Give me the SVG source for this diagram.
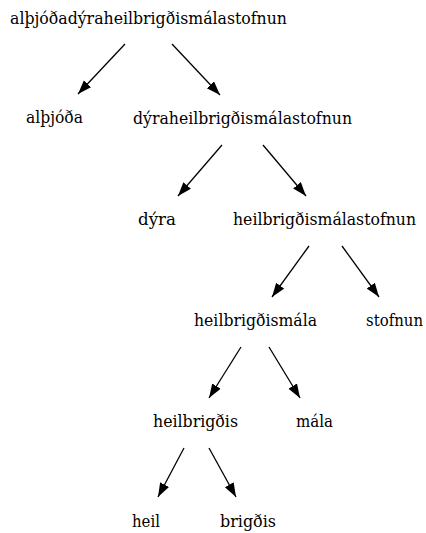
<svg xmlns="http://www.w3.org/2000/svg" width="426" height="533" viewBox="0 0 426 533">
  <style>
    .lbl { font-family: 'DejaVu Serif', serif; font-size: 16px; fill: #000; text-anchor: middle; }
    .edge { stroke: #000; stroke-width: 1.3; fill: none; marker-end: url(#arrow); }
  </style>
  <defs>
    <marker id="arrow" markerUnits="userSpaceOnUse" markerWidth="15" markerHeight="11" refX="14" refY="5" orient="auto">
      <path d="M0,0 L14,5 L0,10 Z" fill="#000"/>
    </marker>
  </defs>
  <rect width="426" height="533" fill="#fff"/>

  <g id="edges">
    <line class="edge" x1="125" y1="44" x2="78" y2="94"/>
    <line class="edge" x1="172" y1="44" x2="220" y2="95"/>
    <line class="edge" x1="222" y1="145" x2="178" y2="196"/>
    <line class="edge" x1="263" y1="145" x2="306" y2="196"/>
    <line class="edge" x1="309" y1="246" x2="272" y2="297"/>
    <line class="edge" x1="342" y1="246" x2="379" y2="297"/>
    <line class="edge" x1="241" y1="347" x2="209" y2="398"/>
    <line class="edge" x1="269" y1="347" x2="300" y2="398"/>
    <line class="edge" x1="184" y1="448" x2="158" y2="497"/>
    <line class="edge" x1="209" y1="448" x2="236" y2="497"/>
  </g>

  <g id="n-root"><text class="lbl" x="148.5" y="24" textLength="277" lengthAdjust="spacingAndGlyphs">alþjóðadýraheilbrigðismálastofnun</text></g>
  <g id="n-althjoda"><text class="lbl" x="54.5" y="123" textLength="57" lengthAdjust="spacingAndGlyphs">alþjóða</text></g>
  <g id="n-dyraheil"><text class="lbl" x="242.5" y="124" textLength="219" lengthAdjust="spacingAndGlyphs">dýraheilbrigðismálastofnun</text></g>
  <g id="n-dyra"><text class="lbl" x="157" y="225" textLength="38" lengthAdjust="spacingAndGlyphs">dýra</text></g>
  <g id="n-heilstofnun"><text class="lbl" x="324.5" y="225" textLength="183" lengthAdjust="spacingAndGlyphs">heilbrigðismálastofnun</text></g>
  <g id="n-heilmala"><text class="lbl" x="255.5" y="326" textLength="123" lengthAdjust="spacingAndGlyphs">heilbrigðismála</text></g>
  <g id="n-stofnun"><text class="lbl" x="394.5" y="326" textLength="57" lengthAdjust="spacingAndGlyphs">stofnun</text></g>
  <g id="n-heilbrigdis"><text class="lbl" x="195.5" y="427" textLength="85" lengthAdjust="spacingAndGlyphs">heilbrigðis</text></g>
  <g id="n-mala"><text class="lbl" x="314.5" y="427" textLength="37" lengthAdjust="spacingAndGlyphs">mála</text></g>
  <g id="n-heil"><text class="lbl" x="146" y="527" textLength="28" lengthAdjust="spacingAndGlyphs">heil</text></g>
  <g id="n-brigdis"><text class="lbl" x="248" y="527" textLength="56" lengthAdjust="spacingAndGlyphs">brigðis</text></g>
</svg>
